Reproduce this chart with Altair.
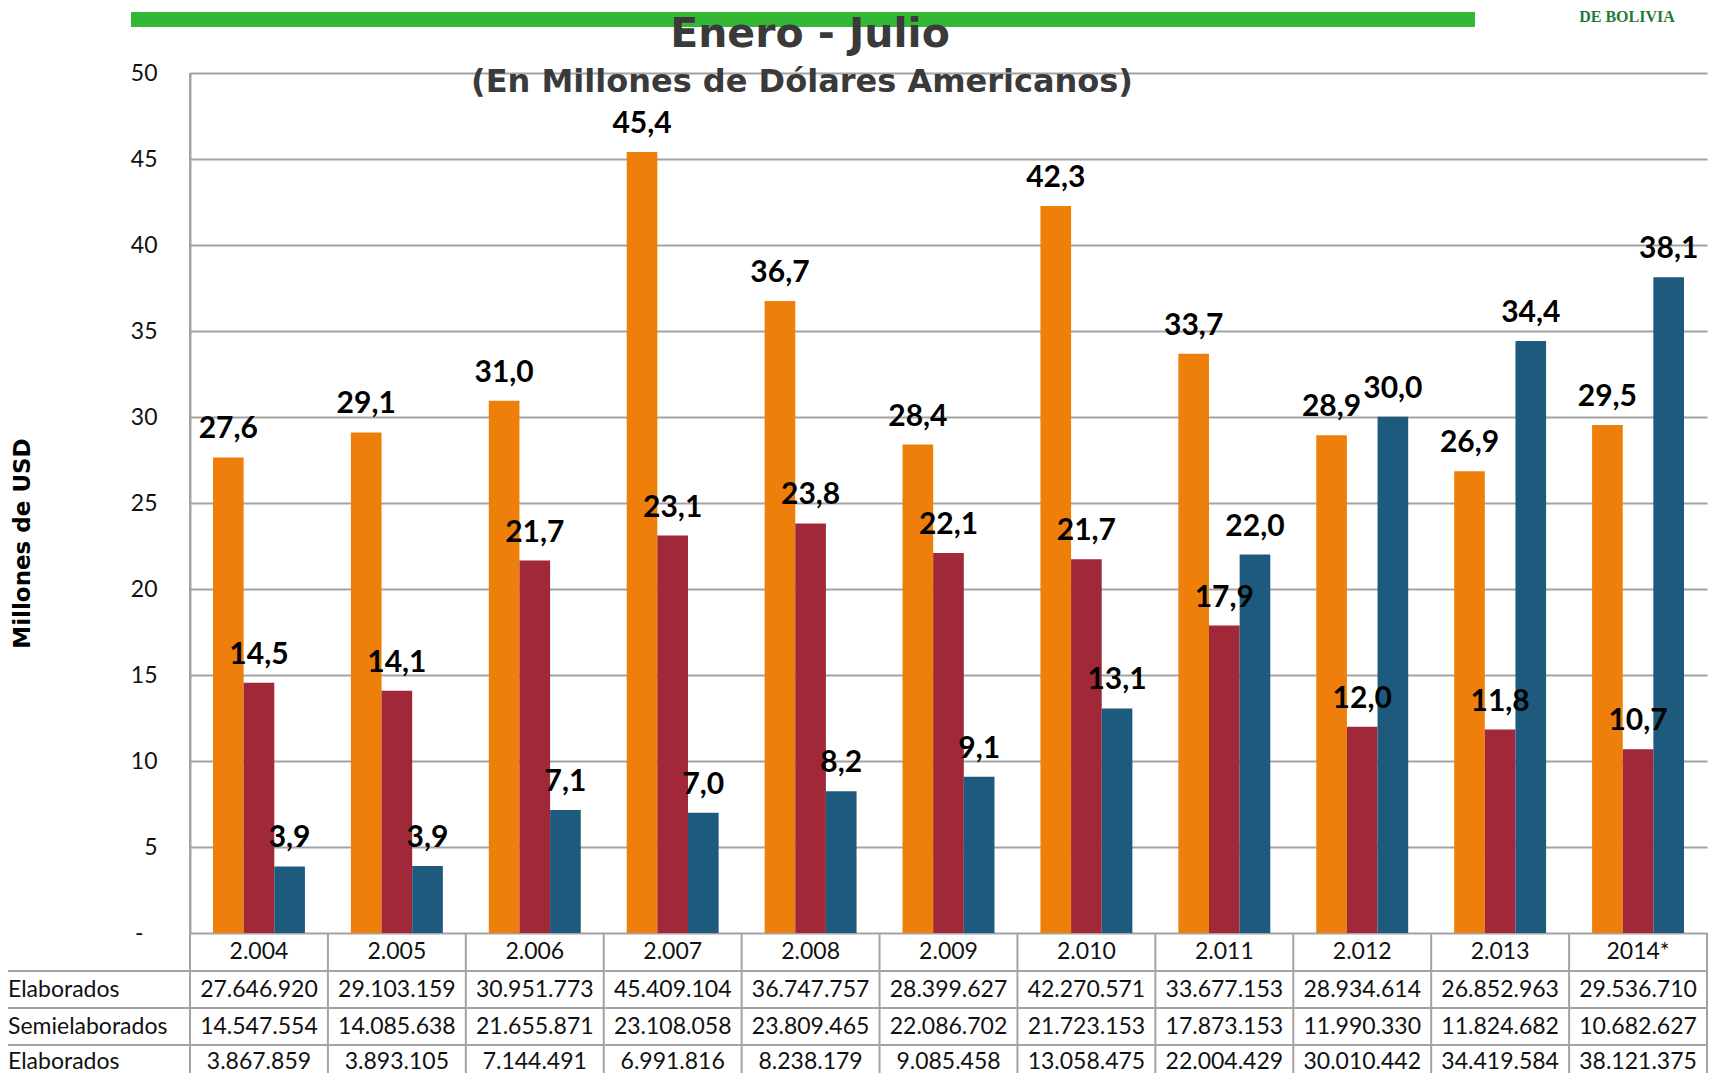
import altair as alt
import pandas as pd

# ---------------- data ----------------
years = ["2.004", "2.005", "2.006", "2.007", "2.008", "2.009",
         "2.010", "2.011", "2.012", "2.013", "2014*"]
series = ["No Elaborados", "Semielaborados", "Elaborados"]
row_labels = ["Elaborados", "Semielaborados", "Elaborados"]

no_elaborados = [27646920, 29103159, 30951773, 45409104, 36747757, 28399627,
                 42270571, 33677153, 28934614, 26852963, 29536710]
semielaborados = [14547554, 14085638, 21655871, 23108058, 23809465, 22086702,
                  21723153, 17873153, 11990330, 11824682, 10682627]
elaborados = [3867859, 3893105, 7144491, 6991816, 8238179, 9085458,
              13058475, 22004429, 30010442, 34419584, 38121375]

colors = ["#EF7F0B", "#A02838", "#1E5A7E"]
y_ticks = [0, 5, 10, 15, 20, 25, 30, 35, 40, 45, 50]

title_text = "Enero - Julio"
subtitle_text = "(En Millones de Dólares Americanos)"
y_title = "Millones de USD"
logo_text = "DE BOLIVIA"

# ---------------- layout ----------------
W, H = 1517, 860
GRAY = "#a3a3a3"
LEFT = 182
row_lines = [898, 935, 972]
row_centers = [917, 954, 989]
header_center = 879
table_bottom = 1000

rows = []
for s, vals in zip(series, [no_elaborados, semielaborados, elaborados]):
    for yr, v in zip(years, vals):
        rows.append({
            "year": yr, "series": s, "mill": v / 1e6,
            "label": f"{v / 1e6:.1f}".replace(".", ","),
            "table": f"{v:,}".replace(",", "."),
        })
df = pd.DataFrame(rows)
years_df = pd.DataFrame({"year": years})

x_scale = alt.Scale(paddingInner=0, paddingOuter=0)
x_enc = alt.X("year:N", sort=years, scale=x_scale, axis=None)
xo_enc = alt.XOffset("series:N", sort=series,
                     scale=alt.Scale(paddingInner=0, paddingOuter=0.75))
y_enc = alt.Y(
    "mill:Q",
    scale=alt.Scale(domain=[0, 50], nice=False, zero=True),
    axis=alt.Axis(
        values=y_ticks,
        labelExpr="datum.value == 0 ? '-' : datum.label",
        grid=True, gridColor=GRAY, gridWidth=2,
        domain=True, domainColor=GRAY, domainWidth=2,
        ticks=False,
        labelPadding={"condition": {"test": "datum.value === 0", "value": 47},
                      "value": 33},
        labelFont="Lato", labelFontSize=23, labelColor="#111111",
        title=y_title, titleFont="DejaVu Sans", titleFontWeight="bold",
        titleFontSize=23, titleColor="#000000",
        titleX=-168, titleY=470, titleAlign="center", titleBaseline="middle",
        titleAngle=270,
    ),
)
color_enc = alt.Color("series:N", sort=series,
                      scale=alt.Scale(domain=series, range=colors), legend=None)

bars = alt.Chart(df).mark_bar().encode(
    x=x_enc, xOffset=xo_enc, y=y_enc, color=color_enc
)

labels = alt.Chart(df).mark_text(
    font="Lato", fontWeight="bold", fontSize=30, dy=-19,
    baseline="alphabetic", align="center", color="#000000"
).encode(x=x_enc, xOffset=xo_enc, y=y_enc, text="label:N")

layers = [bars, labels]

# table: vertical lines at each year boundary + right edge
vlines = alt.Chart(years_df).mark_rule(color=GRAY, strokeWidth=2).encode(
    x=alt.X("year:N", sort=years, scale=x_scale, axis=None, bandPosition=0),
    y=alt.value(H), y2=alt.value(table_bottom),
)
layers.append(vlines)
right_edge = alt.Chart(years_df.tail(1)).mark_rule(color=GRAY, strokeWidth=2).encode(
    x=alt.X("year:N", sort=years, scale=x_scale, axis=None, bandPosition=1),
    y=alt.value(H), y2=alt.value(table_bottom),
)
layers.append(right_edge)
left_edge = alt.Chart(years_df.head(1)).mark_rule(color=GRAY, strokeWidth=2).encode(
    x=alt.X("year:N", sort=years, scale=x_scale, axis=None, bandPosition=0),
    y=alt.value(0), y2=alt.value(table_bottom),
)
layers.append(left_edge)
for ly in row_lines:
    layers.append(
        alt.Chart(years_df.head(1)).mark_rule(color=GRAY, strokeWidth=2).encode(
            x=alt.value(-LEFT), x2=alt.value(W), y=alt.value(ly)
        )
    )

# header row (years)
layers.append(
    alt.Chart(years_df).mark_text(font="Lato", fontSize=23, baseline="middle",
                                  color="#111111").encode(
        x=x_enc, y=alt.value(header_center), text="year:N"
    )
)
# value rows
for s, lbl, yc in zip(series, row_labels, row_centers):
    sub = df[df["series"] == s]
    layers.append(
        alt.Chart(sub).mark_text(font="Lato", fontSize=23, baseline="middle",
                                 color="#111111").encode(
            x=x_enc, y=alt.value(yc), text="table:N"
        )
    )
    layers.append(
        alt.Chart(pd.DataFrame({"t": [lbl]})).mark_text(
            font="Lato", fontSize=23, baseline="middle", align="left",
            color="#111111").encode(
            x=alt.value(-LEFT), y=alt.value(yc), text="t:N"
        )
    )

# decorations: green bar, titles, logo text
layers.append(
    alt.Chart(pd.DataFrame({"a": [1]})).mark_rect(color="#35B736").encode(
        x=alt.value(-59), x2=alt.value(1285), y=alt.value(-61), y2=alt.value(-46)
    )
)
layers.append(
    alt.Chart(pd.DataFrame({"t": [title_text]})).mark_text(
        font="DejaVu Sans", fontWeight="bold", fontSize=41, color="#3a3a3a",
        align="center", baseline="alphabetic").encode(
        x=alt.value(620), y=alt.value(-26), text="t:N"
    )
)
layers.append(
    alt.Chart(pd.DataFrame({"t": [subtitle_text]})).mark_text(
        font="DejaVu Sans", fontWeight="bold", fontSize=32, color="#3a3a3a",
        align="center", baseline="alphabetic").encode(
        x=alt.value(612), y=alt.value(19), text="t:N"
    )
)
layers.append(
    alt.Chart(pd.DataFrame({"t": [logo_text]})).mark_text(
        font="Liberation Serif", fontWeight="bold", fontSize=16, color="#1f7a3a",
        align="center", baseline="alphabetic").encode(
        x=alt.value(1437), y=alt.value(-51), text="t:N"
    )
)

chart = alt.layer(*layers).properties(
    width=W, height=H,
    autosize=alt.AutoSizeParams(type="none"),
    padding={"left": LEFT, "top": 65, "right": 4, "bottom": 140},
    background="white",
).configure_view(stroke=None)

chart.save("out.html", embed_options={"renderer": "svg", "actions": False})
